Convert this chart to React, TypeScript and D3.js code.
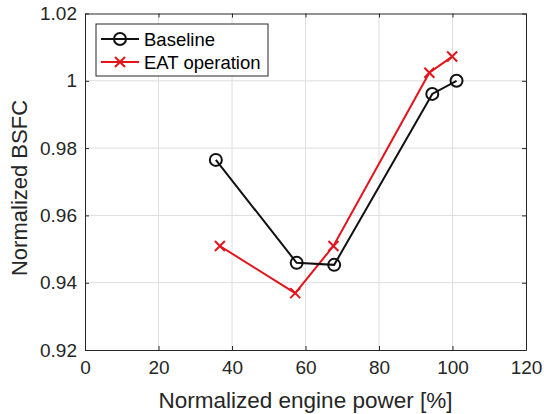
import React, { useEffect, useRef } from 'react'
import * as d3 from 'd3'

// baseline series
const baseX = [35.6, 57.6, 67.8, 94.5, 101.1]
const baseY = [0.9765, 0.9459, 0.9453, 0.9961, 1.0]
// EAT operation series
const eatX = [36.7, 57.2, 67.6, 93.7, 99.9]
const eatY = [0.9509, 0.9369, 0.9509, 1.0024, 1.0072]

const xTicks = [0, 20, 40, 60, 80, 100, 120]
const yTicks = [0.92, 0.94, 0.96, 0.98, 1, 1.02]
const yTickLabels = ['0.92', '0.94', '0.96', '0.98', '1', '1.02']
const legendNames = ['Baseline', 'EAT operation']

const W = 544
const H = 414
const FONT = 'Liberation Sans, Arial, sans-serif'
const INK = '#262626'
const RED = '#e3141b'
const BLACK = '#111111'

const App = () => {
  const ref = useRef<SVGSVGElement>(null)

  useEffect(() => {
    const svg = d3.select(ref.current)
    svg.selectAll('*').remove()

    const left = 85, right = 526, top = 13.5, bottom = 350

    const x = d3.scaleLinear().domain([0, 120]).range([left, right])
    const y = d3.scaleLinear().domain([0.92, 1.02]).range([bottom, top])

    svg.append('rect').attr('width', W).attr('height', H).attr('fill', '#fff')

    // grid
    const grid = svg.append('g').attr('stroke', '#dedede').attr('stroke-width', 1)
    xTicks.slice(1, -1).forEach(t => {
      grid.append('line').attr('x1', x(t)).attr('x2', x(t)).attr('y1', top).attr('y2', bottom)
    })
    yTicks.slice(1, -1).forEach(t => {
      grid.append('line').attr('x1', left).attr('x2', right).attr('y1', y(t)).attr('y2', y(t))
    })

    // axes (ticks point inward, MATLAB style)
    const xAxis = svg.append('g')
      .attr('transform', `translate(0,${bottom})`)
      .call(d3.axisBottom(x).tickValues(xTicks).tickSizeInner(-4).tickSizeOuter(0).tickPadding(11))
    const yAxis = svg.append('g')
      .attr('transform', `translate(${left},0)`)
      .call(d3.axisLeft(y).tickValues(yTicks).tickFormat((d, i) => yTickLabels[i]).tickSizeInner(-4).tickSizeOuter(0).tickPadding(8))
    const xTop = svg.append('g')
      .attr('transform', `translate(0,${top})`)
      .call(d3.axisTop(x).tickValues(xTicks).tickSizeInner(-4).tickSizeOuter(0).tickFormat(() => ''))
    const yRight = svg.append('g')
      .attr('transform', `translate(${right},0)`)
      .call(d3.axisRight(y).tickValues(yTicks).tickSizeInner(-4).tickSizeOuter(0).tickFormat(() => ''))

    ;[xAxis, yAxis, xTop, yRight].forEach(a => {
      a.select('.domain').attr('stroke', INK).attr('stroke-width', 1)
      a.selectAll('.tick line').attr('stroke', INK)
      a.selectAll('.tick text').attr('fill', INK).style('font-family', FONT).style('font-size', '19px')
    })

    // axis titles
    svg.append('text')
      .attr('x', (left + right) / 2).attr('y', 408)
      .attr('text-anchor', 'middle').attr('fill', INK)
      .style('font-family', FONT).style('font-size', '22.5px')
      .text('Normalized engine power [%]')
    svg.append('text')
      .attr('transform', `translate(27,188) rotate(-90)`)
      .attr('text-anchor', 'middle').attr('fill', INK)
      .style('font-family', FONT).style('font-size', '22px')
      .text('Normalized BSFC')

    const basePts = baseX.map((v, i) => [x(v), y(baseY[i])] as [number, number])
    const eatPts = eatX.map((v, i) => [x(v), y(eatY[i])] as [number, number])

    svg.append('path').attr('d', d3.line()(eatPts)).attr('fill', 'none')
      .attr('stroke', RED).attr('stroke-width', 2)
    svg.append('path').attr('d', d3.line()(basePts)).attr('fill', 'none')
      .attr('stroke', BLACK).attr('stroke-width', 2)

    const cross = (g: any, cx: number, cy: number) => {
      const s = 5
      g.append('path')
        .attr('d', `M${cx - s},${cy - s}L${cx + s},${cy + s}M${cx - s},${cy + s}L${cx + s},${cy - s}`)
        .attr('stroke', RED).attr('stroke-width', 2).attr('fill', 'none')
    }
    eatPts.forEach(p => cross(svg, p[0], p[1]))
    basePts.forEach(p => {
      svg.append('circle').attr('cx', p[0]).attr('cy', p[1]).attr('r', 6)
        .attr('fill', 'none').attr('stroke', BLACK).attr('stroke-width', 2)
    })

    // legend
    const lg = svg.append('g')
    lg.append('rect').attr('x', 96).attr('y', 24).attr('width', 172).attr('height', 52)
      .attr('fill', '#fff').attr('stroke', INK).attr('stroke-width', 1)
    const rows = [39, 62]
    rows.forEach((ry, i) => {
      const col = i === 0 ? BLACK : RED
      lg.append('line').attr('x1', 101).attr('x2', 139).attr('y1', ry).attr('y2', ry)
        .attr('stroke', col).attr('stroke-width', 2)
      if (i === 0) {
        lg.append('circle').attr('cx', 120).attr('cy', ry).attr('r', 6)
          .attr('fill', 'none').attr('stroke', col).attr('stroke-width', 2)
      } else {
        cross(lg, 120, ry)
      }
      lg.append('text').attr('x', 144).attr('y', ry + 6.5).attr('fill', '#000')
        .style('font-family', FONT).style('font-size', '18.5px')
        .text(legendNames[i])
    })
  }, [])

  return <svg ref={ref} width={W} height={H} style={{ display: 'block', position: 'absolute', left: 0, top: 0 }} />
}

export default App
